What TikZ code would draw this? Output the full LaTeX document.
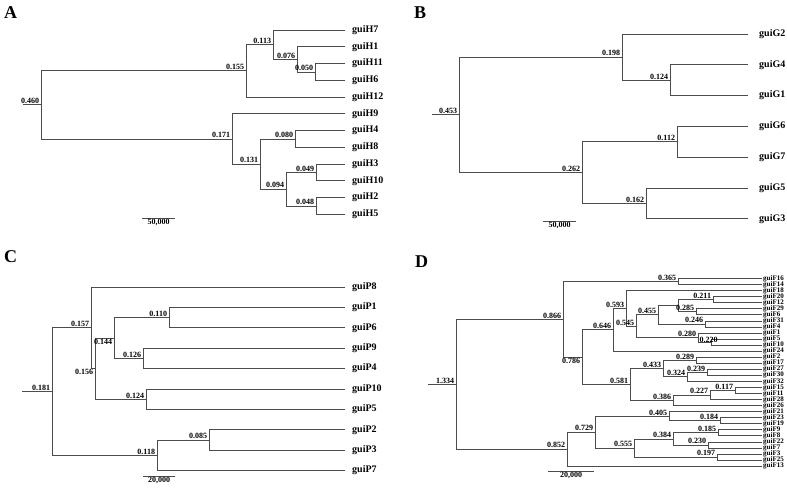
\documentclass[tikz,border=0pt]{standalone}
\usepackage{fontspec}
\setmainfont{Liberation Serif}
\begin{document}
\begin{tikzpicture}[x=1pt,y=-1pt,
 br/.style={draw=black!70, line width=0.7pt},
 blab/.style={font=\bfseries\fontsize{8}{8}\selectfont, inner sep=0.8pt, anchor=south east, xshift=-1pt},
 blabb/.style={blab, anchor=north east},
 leafA/.style={font=\bfseries\fontsize{10}{10}\selectfont, anchor=west, inner sep=0pt, xshift=7pt},
 leafB/.style={leafA, xshift=4pt},
 leafD/.style={font=\bfseries\fontsize{7}{7}\selectfont, anchor=west, inner sep=0pt, xshift=1pt},
 panel/.style={font=\bfseries\fontsize{18}{18}\selectfont, inner sep=0pt},
 sclab/.style={font=\bfseries\fontsize{8}{8}\selectfont, anchor=north, inner sep=1pt}]
\useasboundingbox (0,0) rectangle (787,489);

% ---------------- Panel A ----------------
\node[panel] (pA) at (10.5,13) {A};
\coordinate (H7) at (345,30);
\coordinate (H1) at (345,46.75);
\coordinate (H11) at (345,63.5);
\coordinate (H6) at (345,80.25);
\coordinate (H12) at (345,97);
\coordinate (H9) at (345,113.75);
\coordinate (H4) at (345,130.5);
\coordinate (H8) at (345,147.25);
\coordinate (H3) at (345,164);
\coordinate (H10) at (345,180.75);
\coordinate (H2) at (345,197.5);
\coordinate (H5) at (345,214.25);
\coordinate (a050) at (315,71.9);
\coordinate (a076) at (297,59.3);
\coordinate (a113) at (273,44.7);
\coordinate (a155) at (246,70.8);
\coordinate (a080) at (295,138.9);
\coordinate (a049) at (316,172.4);
\coordinate (a048) at (316,205.9);
\coordinate (a094) at (286,189.1);
\coordinate (a131) at (260,164);
\coordinate (a171) at (232,138.9);
\coordinate (aR) at (41,104.8);
\coordinate (aS) at (23,104.8);
\draw[br] (aS) -- (aR);
\draw[br] (aR) |- (a155); \draw[br] (aR) |- (a171);
\draw[br] (a155) |- (a113); \draw[br] (a155) |- (H12);
\draw[br] (a113) |- (H7); \draw[br] (a113) |- (a076);
\draw[br] (a076) |- (H1); \draw[br] (a076) |- (a050);
\draw[br] (a050) |- (H11); \draw[br] (a050) |- (H6);
\draw[br] (a171) |- (H9); \draw[br] (a171) |- (a131);
\draw[br] (a131) |- (a080); \draw[br] (a131) |- (a094);
\draw[br] (a080) |- (H4); \draw[br] (a080) |- (H8);
\draw[br] (a094) |- (a049); \draw[br] (a094) |- (a048);
\draw[br] (a049) |- (H3); \draw[br] (a049) |- (H10);
\draw[br] (a048) |- (H2); \draw[br] (a048) |- (H5);
\node[blab] (laR) at (aR) {0.460};
\node[blab] (la155) at (a155) {0.155};
\node[blab] (la113) at (a113) {0.113};
\node[blab] (la076) at (a076) {0.076};
\node[blab] (la050) at (a050) {0.050};
\node[blab] (la171) at (a171) {0.171};
\node[blab] (la131) at (a131) {0.131};
\node[blab] (la080) at (a080) {0.080};
\node[blab] (la094) at (a094) {0.094};
\node[blab] (la049) at (a049) {0.049};
\node[blab] (la048) at (a048) {0.048};
\foreach \n in {H7,H1,H11,H6,H12,H9,H4,H8,H3,H10,H2,H5}
  \node[leafA] (t\n) at (\n) {gui\n};
\coordinate (sA1) at (142,218);
\coordinate (sA2) at (175,218);
\draw[br] (sA1) -- (sA2);
\node[sclab] (tsA) at (158.5,218) {50,000};

% ---------------- Panel B ----------------
\node[panel] (pB) at (420,13) {B};
\coordinate (G2) at (748,34);
\coordinate (G4) at (748,64.8);
\coordinate (G1) at (748,95.6);
\coordinate (G6) at (748,126.4);
\coordinate (G7) at (748,157.2);
\coordinate (G5) at (748,188);
\coordinate (G3) at (748,218.8);
\coordinate (b124) at (670,80.2);
\coordinate (b198) at (622,57.1);
\coordinate (b112) at (677,141.8);
\coordinate (b162) at (646,203.4);
\coordinate (b262) at (582,172.6);
\coordinate (bR) at (459,114.85);
\coordinate (bS) at (432,114.85);
\draw[br] (bS) -- (bR);
\draw[br] (bR) |- (b198); \draw[br] (bR) |- (b262);
\draw[br] (b198) |- (G2); \draw[br] (b198) |- (b124);
\draw[br] (b124) |- (G4); \draw[br] (b124) |- (G1);
\draw[br] (b262) |- (b112); \draw[br] (b262) |- (b162);
\draw[br] (b112) |- (G6); \draw[br] (b112) |- (G7);
\draw[br] (b162) |- (G5); \draw[br] (b162) |- (G3);
\node[blab] (lbR) at (bR) {0.453};
\node[blab] (lb198) at (b198) {0.198};
\node[blab] (lb124) at (b124) {0.124};
\node[blab] (lb262) at (b262) {0.262};
\node[blab] (lb112) at (b112) {0.112};
\node[blab] (lb162) at (b162) {0.162};
\foreach \n in {G2,G4,G1,G6,G7,G5,G3}
  \node[leafB] (t\n) at (\n) {gui\n};
\coordinate (sB1) at (543,221);
\coordinate (sB2) at (576,221);
\draw[br] (sB1) -- (sB2);
\node[sclab] (tsB) at (559.5,221) {50,000};

% ---------------- Panel C ----------------
\node[panel] (pC) at (10.5,256.5) {C};
\coordinate (P8) at (345,287);
\coordinate (P1) at (345,307.4);
\coordinate (P6) at (345,327.8);
\coordinate (P9) at (345,348.2);
\coordinate (P4) at (345,368.6);
\coordinate (P10) at (345,389);
\coordinate (P5) at (345,409.4);
\coordinate (P2) at (345,429.8);
\coordinate (P3) at (345,450.2);
\coordinate (P7) at (345,470.6);
\coordinate (c110) at (169,317.6);
\coordinate (c126) at (143,358.4);
\coordinate (c144) at (114,338);
\coordinate (c124) at (146,399.2);
\coordinate (c156) at (95,368.6);
\coordinate (c157) at (91,327.8);
\coordinate (c085) at (209,440);
\coordinate (c118) at (157,455.3);
\coordinate (cR) at (52,391.55);
\coordinate (cS) at (22,391.55);
\draw[br] (cS) -- (cR);
\draw[br] (cR) |- (c157); \draw[br] (cR) |- (c118);
\draw[br] (c157) |- (P8); \draw[br] (c157) |- (c156);
\draw[br] (c156) |- (c144); \draw[br] (c156) |- (c124);
\draw[br] (c144) |- (c110); \draw[br] (c144) |- (c126);
\draw[br] (c110) |- (P1); \draw[br] (c110) |- (P6);
\draw[br] (c126) |- (P9); \draw[br] (c126) |- (P4);
\draw[br] (c124) |- (P10); \draw[br] (c124) |- (P5);
\draw[br] (c118) |- (c085); \draw[br] (c118) |- (P7);
\draw[br] (c085) |- (P2); \draw[br] (c085) |- (P3);
\node[blab] (lcR) at (cR) {0.181};
\node[blab] (lc157) at (c157) {0.157};
\node[blabb] (lc156) at (c156) {0.156};
\node[blabb] (lc144) at (c144) {0.144};
\node[blab] (lc110) at (c110) {0.110};
\node[blab] (lc126) at (c126) {0.126};
\node[blab] (lc124) at (c124) {0.124};
\node[blab] (lc085) at (c085) {0.085};
\node[blab] (lc118) at (c118) {0.118};
\foreach \n in {P8,P1,P6,P9,P4,P10,P5,P2,P3,P7}
  \node[leafA] (t\n) at (\n) {gui\n};
\coordinate (sC1) at (143,476);
\coordinate (sC2) at (175,476);
\draw[br] (sC1) -- (sC2);
\node[sclab] (tsC) at (159,476) {20,000};

% ---------------- Panel D ----------------
\node[panel] (pD) at (421.5,261.5) {D};
\foreach \n [count=\i from 0] in {F16,F14,F18,F20,F12,F29,F6,F31,F4,F1,F5,F10,F24,F2,F17,F27,F30,F32,F15,F11,F28,F26,F21,F23,F19,F9,F8,F22,F7,F3,F25,F13}
  \coordinate (\n) at (762,{278.5+6.05*\i});
\coordinate (d365) at (678,281.5);
\coordinate (d211) at (713,299.7);
\coordinate (d285) at (696,311.8);
\coordinate (dA) at (678,305.75);
\coordinate (d246) at (705,323.9);
\coordinate (d455) at (658,314.8);
\coordinate (d220) at (711,342.0);
\coordinate (d280) at (698,337.5);
\coordinate (d545) at (636,326.15);
\coordinate (d593) at (626,308.4);
\coordinate (d646) at (613,329.75);
\coordinate (d289) at (696,360.2);
\coordinate (d239) at (707,372.3);
\coordinate (d324) at (687,376.8);
\coordinate (d433) at (663,368.5);
\coordinate (d117) at (735,390.4);
\coordinate (d227) at (710,394.95);
\coordinate (d386) at (673,400.25);
\coordinate (d581) at (630,384.4);
\coordinate (d786) at (582,357.1);
\coordinate (d866) at (563,319.3);
\coordinate (d184) at (720,420.7);
\coordinate (d405) at (669,416.15);
\coordinate (d185) at (718,432.8);
\coordinate (d230) at (708,444.9);
\coordinate (d384) at (673,438.85);
\coordinate (d197) at (717,457.0);
\coordinate (d555) at (634,447.9);
\coordinate (d729) at (595,432.0);
\coordinate (d852) at (567,449.0);
\coordinate (dR) at (456,384.15);
\coordinate (dS) at (428,384.15);
\draw[br] (dS) -- (dR);
\draw[br] (dR) |- (d866); \draw[br] (dR) |- (d852);
\draw[br] (d866) |- (d365); \draw[br] (d866) |- (d786);
\draw[br] (d365) |- (F16); \draw[br] (d365) |- (F14);
\draw[br] (d786) |- (d646); \draw[br] (d786) |- (d581);
\draw[br] (d646) |- (d593); \draw[br] (d646) |- (F24);
\draw[br] (d593) |- (F18); \draw[br] (d593) |- (d545);
\draw[br] (d545) |- (d455); \draw[br] (d545) |- (d280);
\draw[br] (d455) |- (dA); \draw[br] (d455) |- (d246);
\draw[br] (dA) |- (d211); \draw[br] (dA) |- (d285);
\draw[br] (d211) |- (F20); \draw[br] (d211) |- (F12);
\draw[br] (d285) |- (F29); \draw[br] (d285) |- (F6);
\draw[br] (d246) |- (F31); \draw[br] (d246) |- (F4);
\draw[br] (d280) |- (F1); \draw[br] (d280) |- (d220);
\draw[br] (d220) |- (F5); \draw[br] (d220) |- (F10);
\draw[br] (d581) |- (d433); \draw[br] (d581) |- (d386);
\draw[br] (d433) |- (d289); \draw[br] (d433) |- (d324);
\draw[br] (d289) |- (F2); \draw[br] (d289) |- (F17);
\draw[br] (d324) |- (d239); \draw[br] (d324) |- (F32);
\draw[br] (d239) |- (F27); \draw[br] (d239) |- (F30);
\draw[br] (d386) |- (d227); \draw[br] (d386) |- (F26);
\draw[br] (d227) |- (d117); \draw[br] (d227) |- (F28);
\draw[br] (d117) |- (F15); \draw[br] (d117) |- (F11);
\draw[br] (d852) |- (d729); \draw[br] (d852) |- (F13);
\draw[br] (d729) |- (d405); \draw[br] (d729) |- (d555);
\draw[br] (d405) |- (F21); \draw[br] (d405) |- (d184);
\draw[br] (d184) |- (F23); \draw[br] (d184) |- (F19);
\draw[br] (d555) |- (d384); \draw[br] (d555) |- (d197);
\draw[br] (d384) |- (d185); \draw[br] (d384) |- (d230);
\draw[br] (d185) |- (F9); \draw[br] (d185) |- (F8);
\draw[br] (d230) |- (F22); \draw[br] (d230) |- (F7);
\draw[br] (d197) |- (F3); \draw[br] (d197) |- (F25);
\node[blab] (ldR) at (dR) {1.334};
\node[blab] (ld866) at (d866) {0.866};
\node[blab] (ld365) at (d365) {0.365};
\node[blabb] (ld786) at (d786) {0.786};
\node[blab] (ld646) at (d646) {0.646};
\node[blab] (ld593) at (d593) {0.593};
\node[blab] (ld545) at (d545) {0.545};
\node[blab] (ld455) at (d455) {0.455};
\node[blab] (ld211) at (d211) {0.211};
\node[blab] (ld285) at (d285) {0.285};
\node[blab] (ld246) at (d246) {0.246};
\node[blab] (ld280) at (d280) {0.280};
\node[blab, anchor=south west, xshift=0pt] (ld220) at (699.5,343.5) {0.220};
\node[blab] (ld581) at (d581) {0.581};
\node[blab] (ld433) at (d433) {0.433};
\node[blab] (ld289) at (d289) {0.289};
\node[blab] (ld324) at (d324) {0.324};
\node[blab] (ld239) at (d239) {0.239};
\node[blab] (ld386) at (d386) {0.386};
\node[blab] (ld227) at (d227) {0.227};
\node[blab] (ld117) at (d117) {0.117};
\node[blab] (ld852) at (d852) {0.852};
\node[blab] (ld729) at (d729) {0.729};
\node[blab] (ld405) at (d405) {0.405};
\node[blab] (ld184) at (d184) {0.184};
\node[blab] (ld555) at (d555) {0.555};
\node[blab] (ld384) at (d384) {0.384};
\node[blab] (ld185) at (d185) {0.185};
\node[blab] (ld230) at (d230) {0.230};
\node[blab] (ld197) at (d197) {0.197};
\foreach \n in {F16,F14,F18,F20,F12,F29,F6,F31,F4,F1,F5,F10,F24,F2,F17,F27,F30,F32,F15,F11,F28,F26,F21,F23,F19,F9,F8,F22,F7,F3,F25,F13}
  \node[leafD] (t\n) at (\n) {gui\n};
\coordinate (sD1) at (548,471);
\coordinate (sD2) at (594,471);
\draw[br] (sD1) -- (sD2);
\node[sclab] (tsD) at (571,471) {20,000};
\end{tikzpicture}
\end{document}
